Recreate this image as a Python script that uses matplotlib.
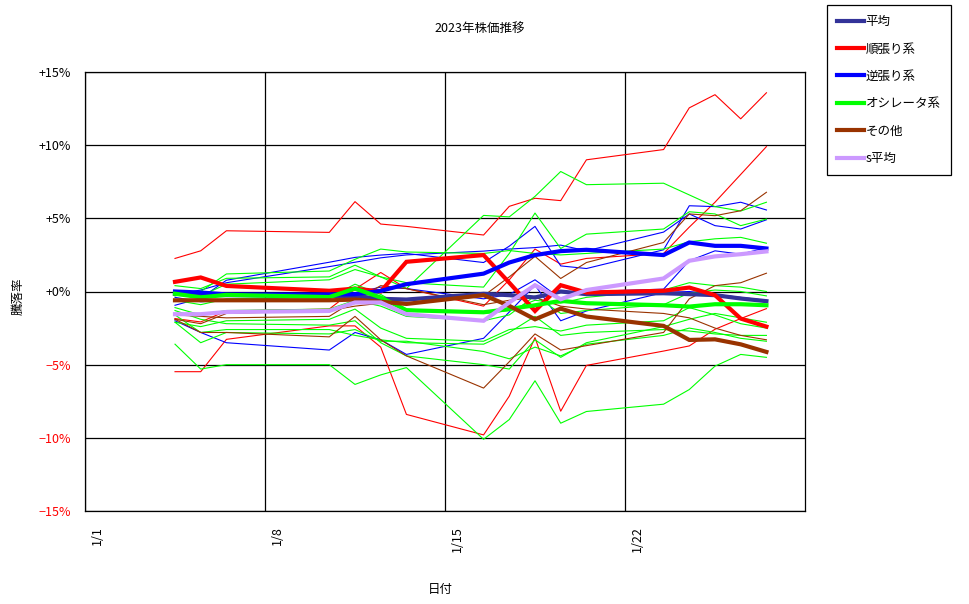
import matplotlib
matplotlib.use("Agg")
import matplotlib.pyplot as plt
import pandas as pd

plt.rcParams['font.family'] = ['Noto Sans CJK JP', 'DejaVu Sans']

# trading days (points sit mid-day on the date axis)
days = ["2023-01-04", "2023-01-05", "2023-01-06", "2023-01-10", "2023-01-11",
        "2023-01-12", "2023-01-13", "2023-01-16", "2023-01-17", "2023-01-18",
        "2023-01-19", "2023-01-20", "2023-01-23", "2023-01-24", "2023-01-25",
        "2023-01-26", "2023-01-27"]

# individual stocks, percent change
trend_a = [2.26, 2.78, 4.15, 4.04, 6.14, 4.61, 4.45, 3.86, 5.82, 6.37, 6.21, 9.0, 9.7, 12.55, 13.45, 11.8, 13.58]
trend_b = [-5.48, -5.48, -3.27, -2.35, -2.35, -3.8, -8.4, -9.8, -7.15, -3.15, -8.18, -5.05, -4.07, -3.72, -2.58, -1.85, -1.17]
trend_c = [-1.85, -2.08, -1.33, -1.2, 0.16, 1.3, 0.2, -1.0, 0.8, 2.9, 1.87, 2.26, 2.6, 4.4, 6.1, 8.0, 9.9]

contra_a = [-0.94, -0.46, 0.77, 2.0, 2.33, 2.49, 2.6, 1.98, 3.1, 4.45, 1.75, 1.57, 2.85, 5.86, 5.8, 6.1, 5.57]
contra_b = [-0.2, 0.1, 0.6, 1.7, 2.0, 2.3, 2.5, 2.76, 2.9, 3.0, 3.17, 2.78, 4.06, 5.3, 4.5, 4.27, 4.9]
contra_c = [-2.0, -2.8, -3.5, -4.0, -2.8, -3.3, -4.3, -3.2, -1.4, 0.43, -2.0, -1.33, -0.07, 0.0, -0.2, -0.4, -0.6]
contra_d = [-0.4, -0.7, -0.6, -0.3, -0.1, 0.3, 0.2, -0.5, -0.2, 0.8, -0.5, 0.0, 0.16, 2.1, 2.78, 2.55, 3.0]

osc_a = [0.4, 0.2, 0.9, 1.0, 1.8, 1.0, 0.2, 5.2, 5.1, 6.5, 8.2, 7.3, 7.4, 6.6, 5.8, 5.5, 6.1]
osc_b = [0.0, -0.3, 0.5, 0.8, 1.5, 1.0, 0.6, 0.3, 2.6, 5.36, 2.94, 3.92, 4.27, 5.45, 5.3, 4.5, 4.95]
osc_c = [-0.3, 0.0, 1.2, 1.4, 2.2, 2.9, 2.7, 2.6, 2.8, 2.6, 2.5, 2.6, 2.9, 3.4, 3.6, 3.7, 3.3]
osc_d = [-1.1, -1.6, -1.3, -1.2, -0.6, -1.0, -1.7, -2.0, -1.6, -0.3, -1.5, -1.3, -0.9, -0.1, 0.1, 0.0, -0.3]
osc_e = [-2.1, -2.4, -2.0, -1.9, -1.2, -2.5, -3.2, -3.4, -2.6, -2.4, -2.7, -2.3, -2.0, -1.1, -1.6, -2.2, -2.5]
osc_f = [-1.6, -2.8, -2.6, -2.6, -3.0, -3.3, -3.5, -3.6, -2.8, -1.7, -3.0, -2.8, -2.6, -2.7, -2.9, -3.0, -3.0]
osc_g = [-3.6, -5.3, -5.0, -5.0, -6.35, -5.7, -5.2, -10.1, -8.75, -6.1, -9.0, -8.2, -7.7, -6.7, -5.1, -4.3, -4.5]
osc_h = [-2.1, -3.5, -2.8, -2.9, -2.6, -3.4, -3.4, -4.1, -4.6, -3.8, -4.4, -3.6, -3.0, -2.5, -2.8, -3.2, -3.4]
osc_i = [-0.6, -0.9, -0.5, -0.4, 0.5, -0.2, -1.2, -1.5, -1.3, -0.6, -0.8, -0.4, 0.1, 0.6, 0.4, 0.3, 0.0]
osc_j = [-1.3, -1.9, -2.2, -2.3, -2.0, -3.5, -4.4, -5.0, -5.3, -3.3, -4.5, -3.5, -2.4, -1.9, -1.5, -1.8, -2.1]

other_a = [-1.9, -2.2, -1.5, -1.3, -1.0, -0.8, -0.6, -0.3, 1.0, 2.4, 0.89, 1.98, 3.35, 5.3, 5.18, 5.52, 6.78]
other_b = [-1.9, -2.8, -2.8, -3.1, -1.7, -3.3, -4.4, -6.6, -4.8, -2.9, -4.0, -3.7, -2.8, -0.5, 0.4, 0.6, 1.25]
other_c = [-1.6, -1.7, -1.8, -1.7, -0.6, 0.4, 0.2, -0.9, -0.6, -0.4, -1.0, -1.2, -1.5, -1.8, -2.5, -3.0, -3.3]

# group averages
avg_all = [-0.16, -0.23, -0.25, -0.3, -0.3, -0.5, -0.55, -0.16, -0.25, -0.41, 0.0, -0.18, -0.12, -0.18, -0.25, -0.48, -0.66]
avg_trend = [0.66, 0.96, 0.38, 0.05, 0.2, 0.0, 2.03, 2.49, 0.6, -1.33, 0.43, -0.07, 0.05, 0.27, -0.25, -1.85, -2.4]
avg_contra = [0.0, -0.07, -0.2, -0.2, -0.18, 0.04, 0.5, 1.22, 1.98, 2.49, 2.76, 2.85, 2.49, 3.35, 3.12, 3.12, 2.94]
avg_osc = [-0.15, -0.4, -0.23, -0.38, 0.2, -0.41, -1.28, -1.42, -1.2, -0.94, -0.64, -0.8, -0.94, -1.03, -0.87, -0.87, -0.94]
avg_other = [-0.6, -0.6, -0.6, -0.6, -0.55, -0.7, -0.85, -0.25, -0.98, -1.9, -1.17, -1.71, -2.35, -3.31, -3.27, -3.61, -4.13]
avg_s = [-1.55, -1.55, -1.4, -1.33, -0.75, -0.75, -1.55, -2.0, -0.75, 0.43, -0.53, 0.1, 0.89, 2.1, 2.4, 2.55, 2.74]

week_ticks = ["2023-01-01", "2023-01-08", "2023-01-15", "2023-01-22"]

RED, BLUE, GREEN, BROWN = "#FF0000", "#0000FF", "#00FF00", "#993300"

x = pd.to_datetime(days) + pd.Timedelta(hours=12)

fig = plt.figure(figsize=(9.7, 6.04), dpi=100)
ax = fig.add_axes([85 / 970, 1 - 511 / 604, 720 / 970, 439 / 604])

thin = [(trend_a, RED), (trend_b, RED), (trend_c, RED),
        (contra_a, BLUE), (contra_b, BLUE), (contra_c, BLUE), (contra_d, BLUE),
        (osc_a, GREEN), (osc_b, GREEN), (osc_c, GREEN), (osc_d, GREEN), (osc_e, GREEN),
        (osc_f, GREEN), (osc_g, GREEN), (osc_h, GREEN), (osc_i, GREEN), (osc_j, GREEN),
        (other_a, BROWN), (other_b, BROWN), (other_c, BROWN)]
for vals, col in thin:
    ax.plot(x, vals, color=col, lw=0.8, zorder=3)

thick = [(avg_all, "#333399", "平均"), (avg_trend, RED, "順張り系"),
         (avg_contra, BLUE, "逆張り系"), (avg_osc, GREEN, "オシレータ系"),
         (avg_other, BROWN, "その他"), (avg_s, "#CC99FF", "s平均")]
handles = []
for vals, col, name in thick:
    h, = ax.plot(x, vals, color=col, lw=3.0, label=name, zorder=4,
                 solid_joinstyle="miter")
    handles.append(h)

ax.set_xlim(pd.Timestamp("2023-01-01"), pd.Timestamp("2023-01-29"))
ax.set_ylim(-15, 15)

# gridlines on the week starts, labels half a day to the right (Excel style)
xt = pd.to_datetime(week_ticks)
ax.set_xticks(xt)
ax.set_xticklabels([])
ax.set_xticks(xt + pd.Timedelta(hours=12), minor=True)
ax.set_xticklabels([f"{d.month}/{d.day}" for d in xt], minor=True, rotation=90,
                   ha="center", va="top", fontsize=9)

yt = list(range(-15, 16, 5))
ax.set_yticks(yt)
ax.set_yticklabels([f"{v:+d}%".replace("-", "\u2212") for v in yt], fontsize=9)
for lbl, v in zip(ax.get_yticklabels(), yt):
    if v < 0:
        lbl.set_color(RED)

ax.tick_params(axis="x", which="both", length=0, pad=11)
ax.tick_params(axis="y", length=0, pad=10)
ax.grid(True, which="major", color="black", lw=0.9)
ax.set_axisbelow(True)
for sp in ax.spines.values():
    sp.set_color("black")
    sp.set_linewidth(0.9)

fig.text(0.495, 1 - 28 / 604, "2023年株価推移", ha="center", va="center", fontsize=9)
fig.text(440 / 970, 1 - 590 / 604, "日付", ha="center", va="center", fontsize=9)
fig.text(18 / 970, 1 - 296 / 604, "騰落率", ha="center", va="center", rotation=90, fontsize=9)

leg = fig.legend(handles=handles, loc="upper left",
                 bbox_to_anchor=(827 / 970, 1 - 5 / 604), fontsize=9,
                 frameon=True, fancybox=False, edgecolor="black", framealpha=1,
                 handlelength=2.2, handletextpad=0.1, labelspacing=1.15,
                 borderpad=0.8, borderaxespad=0)
leg.get_frame().set_linewidth(0.9)

fig.savefig("out.png", dpi=100)
